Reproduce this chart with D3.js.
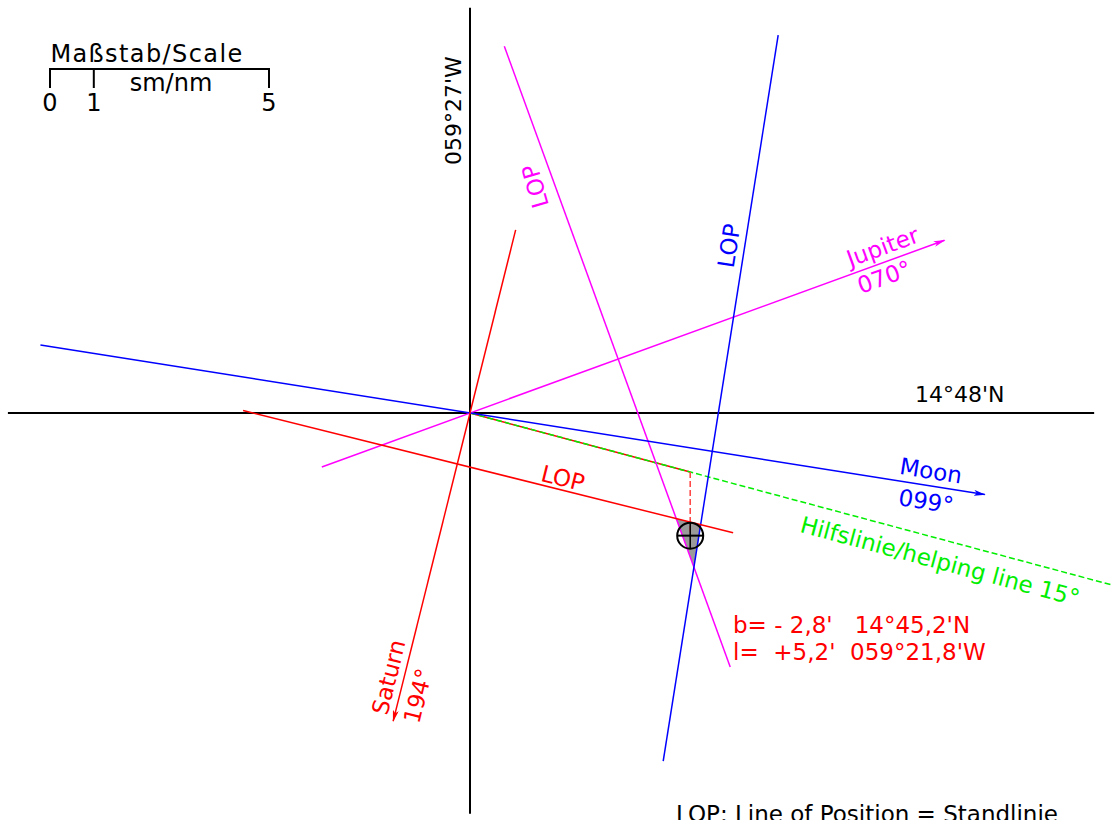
<!DOCTYPE html>
<html>
<head>
<meta charset="utf-8">
<script src="https://cdn.jsdelivr.net/npm/d3@7"></script>
<style>
  html, body { margin: 0; padding: 0; background: #fff; }
  svg { display: block; }
  text { font-family: "DejaVu Sans", Verdana, sans-serif; white-space: pre; }
</style>
</head>
<body>
<svg id="plot" width="1112" height="820"></svg>
<script>
// Celestial fix plotted around the assumed position 14°48'N 059°27'W.
// Distances in nautical miles (sea miles); east/north from the assumed position.
const scaleTicks = [0, 1, 5];
const bodies = ["Jupiter", "Moon", "Saturn"];
const azimuths = [70, 99, 194];            // true bearing of each body, degrees
const intercepts = [3.6, 5.6, 1.2];        // intercept towards the body, nm
const azimuthSpan = [[-3.6, 11.53], [-9.93, 11.9], [-4.31, 7.25]];   // drawn extent of bearing lines, nm
const lopSpan = [[-7.6, 7.48], [-9.62, 7.16], [-6.49, 5.04]];        // drawn extent of each LOP, nm
const bodyColors = ["#ff00ff", "#0000ff", "#ff0000"];
const helpAngle = 15;                      // helping line, degrees below east
const helpSpan = [0, 15.2];
const dLat = -2.8;                         // b, minutes of latitude
const dLong = 5.2;                         // l, minutes of longitude
const assumedLat = 14.8;
const fixText = ["b= - 2,8'   14°45,2'N", "l=  +5,2'  059°21,8'W"];
const axisSpanX = [-10.55, 14.25];
const axisSpanY = [-9.15, 9.25];

const svg = d3.select("#plot");
const pxPerNm = 43.8;
const x = d3.scaleLinear().domain([0, 1]).range([470, 470 + pxPerNm]);
const y = d3.scaleLinear().domain([0, 1]).range([413, 413 - pxPerNm]);

const rad = Math.PI / 180;
// point at bearing b (deg), distance d (nm), from (e0, n0)
const along = (b, d, e0 = 0, n0 = 0) => [e0 + d * Math.sin(b * rad), n0 + d * Math.cos(b * rad)];
const P = p => [x(p[0]), y(p[1])];
const line = d3.line().x(d => x(d[0])).y(d => y(d[1]));

// arrowheads
const defs = svg.append("defs");
bodyColors.forEach((c, i) => {
  defs.append("marker")
    .attr("id", "arr" + i)
    .attr("viewBox", "0 0 12 6")
    .attr("refX", 11).attr("refY", 3)
    .attr("markerWidth", 12).attr("markerHeight", 6)
    .attr("markerUnits", "userSpaceOnUse")
    .attr("orient", "auto")
    .append("path").attr("d", "M0,0 L12,3 L0,6 L3,3 Z").attr("fill", c);
});

// coordinate axes through the assumed position
svg.append("path").attr("d", line([[axisSpanX[0], 0], [axisSpanX[1], 0]]))
  .attr("stroke", "#000").attr("stroke-width", 2).attr("fill", "none");
svg.append("path").attr("d", line([[0, axisSpanY[0]], [0, axisSpanY[1]]]))
  .attr("stroke", "#000").attr("stroke-width", 2).attr("fill", "none");

// cocked hat from the three LOPs
const lopPoint = i => along(azimuths[i], intercepts[i]);
function intersect(i, j) {
  const p = lopPoint(i), q = lopPoint(j);
  const u = along(azimuths[i] + 90, 1), v = along(azimuths[j] + 90, 1);
  const den = u[0] * v[1] - u[1] * v[0];
  const t = ((q[0] - p[0]) * v[1] - (q[1] - p[1]) * v[0]) / den;
  return [p[0] + t * u[0], p[1] + t * u[1]];
}
const hat = [intersect(0, 1), intersect(1, 2), intersect(2, 0)];
svg.append("path").attr("d", line(hat) + "Z").attr("fill", "#9a9a9a").attr("stroke", "none");

// helping line and construction of departure
const departure = dLong * Math.cos(assumedLat * rad);
const fix = [departure, dLat];
const helpEnd = along(90 + helpAngle, helpSpan[1]);
const helpHit = along(90 + helpAngle, departure / Math.cos(helpAngle * rad));
svg.append("path").attr("d", line([[0, 0], helpHit]))
  .attr("stroke", "#ff0000").attr("stroke-width", 1.5).attr("fill", "none");
svg.append("path").attr("d", line([[0, 0], helpEnd]))
  .attr("stroke", "#00ee00").attr("stroke-width", 1.5).attr("fill", "none")
  .attr("stroke-dasharray", "6,3");
svg.append("path").attr("d", line([helpHit, fix]))
  .attr("stroke", "#ff4040").attr("stroke-width", 1.5).attr("fill", "none")
  .attr("stroke-dasharray", "6,3");

// bearing lines and lines of position
bodies.forEach((b, i) => {
  const az = azimuths[i];
  svg.append("path")
    .attr("d", line([along(az, azimuthSpan[i][0]), along(az, azimuthSpan[i][1])]))
    .attr("stroke", bodyColors[i]).attr("stroke-width", 1.5).attr("fill", "none")
    .attr("marker-end", `url(#arr${i})`);
  const p = lopPoint(i);
  svg.append("path")
    .attr("d", line([along(az + 90, lopSpan[i][0], p[0], p[1]), along(az + 90, lopSpan[i][1], p[0], p[1])]))
    .attr("stroke", bodyColors[i]).attr("stroke-width", 1.5).attr("fill", "none");
});

// fix symbol
const [fx, fy] = P(fix);
const r = 13;
svg.append("circle").attr("cx", fx).attr("cy", fy).attr("r", r)
  .attr("fill", "none").attr("stroke", "#000").attr("stroke-width", 2);
svg.append("line").attr("x1", fx - r).attr("x2", fx + r).attr("y1", fy).attr("y2", fy)
  .attr("stroke", "#000").attr("stroke-width", 2);
svg.append("line").attr("x1", fx).attr("x2", fx).attr("y1", fy - r).attr("y2", fy + r)
  .attr("stroke", "#000").attr("stroke-width", 1.5);

// labels
const fs = 23;
function label(txt, pos, angle, color, anchor = "middle", size = fs) {
  return svg.append("text").attr("transform", `translate(${pos[0]},${pos[1]}) rotate(${angle})`)
    .attr("text-anchor", anchor).attr("fill", color).attr("font-size", size).text(txt);
}
// body names along the bearing lines, near the arrow
const arrowLabel = [
  { above: 10.15, below: 9.95, gap: 22, name: "Jupiter" },
  { above: 10.6, below: 10.6, gap: 24, name: "Moon" },
  { above: 6.3, below: 6.55, gap: 26, name: "Saturn" }
];
bodies.forEach((b, i) => {
  const az = azimuths[i];
  const ang = az <= 180 ? az - 90 : az - 270;
  const nrm = [Math.sin(ang * rad), -Math.cos(ang * rad)];
  const ca = P(along(az, arrowLabel[i].above));
  const cb = P(along(az, arrowLabel[i].below));
  const g = arrowLabel[i].gap;
  label(arrowLabel[i].name, [ca[0] + nrm[0] * 7, ca[1] + nrm[1] * 7], ang, bodyColors[i]);
  label(azimuths[i].toString().padStart(3, "0") + "°", [cb[0] - nrm[0] * g, cb[1] - nrm[1] * g], ang, bodyColors[i]);
});
label("LOP", [543, 184], -106, "#ff00ff");
label("LOP", [737, 247], -81, "#0000ff");
label("LOP", [561, 486], 14, "#ff0000");
label("Hilfslinie/helping line 15°", [938, 569], 15, "#00ee00");

svg.selectAll(".fixtxt").data(fixText).enter().append("text")
  .attr("x", 733).attr("y", (d, i) => 633 + i * 27)
  .attr("fill", "#ff0000").attr("font-size", fs).text(d => d);

label("14°48'N", [915, 402], 0, "#000", "start", 22);
label("059°27'W", [461, 165], -90, "#000", "start", 22);
label("LOP: Line of Position = Standlinie", [676, 822], 0, "#000", "start");

// scale bar
const sx = d3.scaleLinear().domain([0, 5]).range([50, 269]);
const scaleG = svg.append("g");
scaleG.append("path").attr("d", `M${sx(0)},88 V69 H${sx(5)} V88`)
  .attr("stroke", "#000").attr("stroke-width", 2).attr("fill", "none");
scaleG.selectAll(".tk").data(scaleTicks.slice(1, -1)).enter().append("line")
  .attr("x1", d => sx(d)).attr("x2", d => sx(d)).attr("y1", 69).attr("y2", 88)
  .attr("stroke", "#000").attr("stroke-width", 2);
scaleG.selectAll(".tl").data(scaleTicks).enter().append("text")
  .attr("x", d => sx(d)).attr("y", 111).attr("text-anchor", "middle")
  .attr("font-size", 24).text(d => d);
scaleG.append("text").attr("x", 147).attr("y", 62).attr("text-anchor", "middle")
  .attr("font-size", 24).attr("letter-spacing", 1.4).text("Maßstab/Scale");
scaleG.append("text").attr("x", 171).attr("y", 91).attr("text-anchor", "middle")
  .attr("font-size", 24).text("sm/nm");
</script>
</body>
</html>
